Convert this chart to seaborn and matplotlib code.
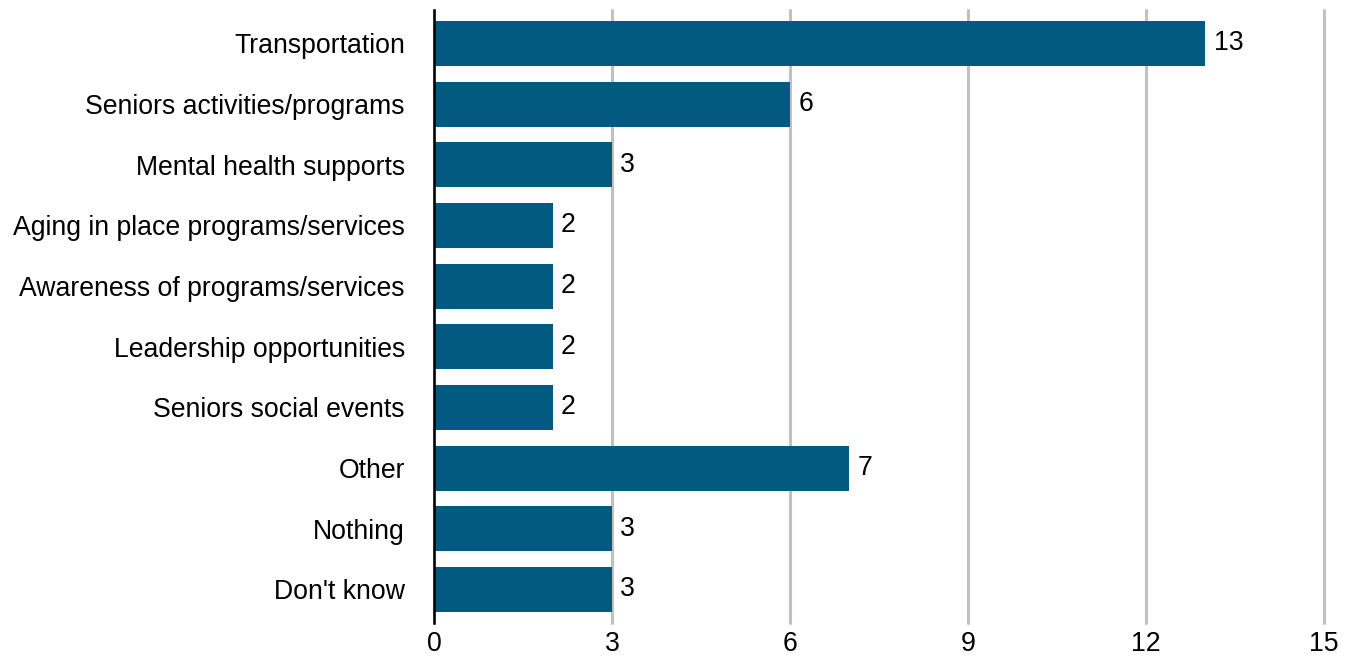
import pandas as pd
import matplotlib
matplotlib.use('Agg')
import matplotlib.pyplot as plt
import seaborn as sns

categories = ['Transportation', 'Seniors activities/programs', 'Mental health supports',
              'Aging in place programs/services', 'Awareness of programs/services',
              'Leadership opportunities', 'Seniors social events', 'Other', 'Nothing',
              "Don't know"]
counts = [13, 6, 3, 2, 2, 2, 2, 7, 3, 3]
x_ticks = [0, 3, 6, 9, 12, 15]

sns.set_style('white')
plt.rcParams['font.family'] = ['Liberation Sans', 'DejaVu Sans']

dataframe = pd.DataFrame({'category': categories, 'count': counts})

fig = plt.figure(figsize=(13.55, 6.58), dpi=100)
ax = fig.add_axes([0.3203, 0.0535, 0.6568, 0.9312])
sns.barplot(data=dataframe, x='count', y='category', color='#035a80',
            saturation=1, width=0.74, linewidth=0, ax=ax, zorder=3)

ax.set_xlim(0, 15)
ax.set_xticks(x_ticks)
ax.set_ylim(len(categories) - 0.45, -0.55)
ax.grid(axis='x', color='#c0c0c0', linewidth=2.2, zorder=0)
ax.grid(axis='y', visible=False)
for line in ax.get_xgridlines():
    line.set_clip_on(False)
for side in ['top', 'right', 'bottom']:
    ax.spines[side].set_visible(False)
ax.spines['left'].set_color('black')
ax.spines['left'].set_linewidth(1.8)
ax.spines['left'].set_zorder(4)
ax.tick_params(axis='both', length=0, labelsize=19.2, labelcolor='black')
ax.tick_params(axis='x', pad=6)
ax.tick_params(axis='y', pad=21)
ax.set_xlabel('')
ax.set_ylabel('')

# value labels at the end of each bar
for i, value in enumerate(counts):
    ax.text(value + 0.14, i, str(value), ha='left', va='center', fontsize=19.2, color='black')

fig.savefig('out.png', dpi=100)
